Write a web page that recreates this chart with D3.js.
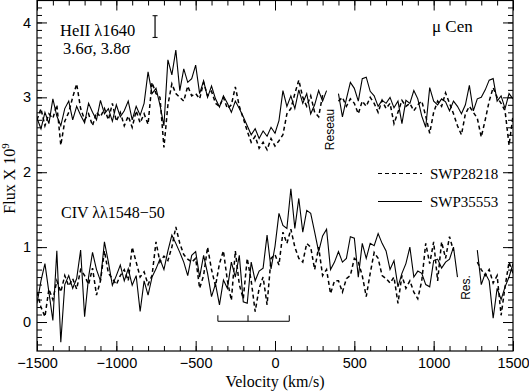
<!DOCTYPE html>
<html>
<head>
<meta charset="utf-8">
<script src="https://cdn.jsdelivr.net/npm/d3@7"></script>
<style>
  body { margin: 0; background: #fff; }
  text { fill: #000; }
</style>
</head>
<body>
<div id="chart"></div>
<script>
// velocity grid (km/s), 25 km/s bins
var velocity = d3.range(-1500, 1501, 25);

// HeII 1640 fluxes (x 1e-9)
var heII_swp35553 = [
  2.72, 2.58, 2.80, 2.65, 2.98, 2.75, 2.62, 2.85, 2.95, 2.70, 2.88, 2.76,
  2.66, 2.92, 2.80, 2.70, 2.96, 2.78, 2.85, 2.68, 2.90, 2.74, 2.82, 2.95,
  2.70, 2.88, 2.76, 2.92, 3.34, 3.05, 3.12, 2.90, 2.62, 3.50, 3.30, 3.63,
  3.09, 3.38, 3.20, 3.25, 3.43, 3.05, 3.22, 3.00, 3.15, 2.98, 2.87, 3.02,
  2.92, 2.80, 2.95, 2.85, 2.74, 2.62, 2.50, 2.58, 2.45, 2.55, 2.48, 2.60,
  2.52, 2.69, 3.09, 2.88, 3.02, 2.85, 3.10, 2.92, 3.05, 2.78, 2.90, 3.09,
  2.95, 3.09, null, null, 3.05, 2.74, 2.98, 3.20, 3.12, 2.95, 3.25, 3.27,
  3.08, 3.02, 2.88, 2.96, 2.92, 3.00, 2.86, 2.95, 2.65, 2.96, 2.92, 3.09,
  2.98, 2.75, 2.60, 3.13, 2.95, 2.90, 2.98, 2.94, 2.82, 2.95, 2.88, 2.78,
  2.90, 3.16, 2.82, 2.98, 3.00, 3.10, 3.23, 3.25, 2.95, 3.02, 2.85, 3.05,
  2.98
];
var heII_swp28218 = [
  2.70, 2.85, 2.62, 2.78, 2.72, 2.90, 2.36, 2.68, 2.80, 3.00, 3.18, 2.85,
  2.70, 2.78, 2.62, 2.80, 2.74, 2.85, 2.70, 2.92, 2.68, 2.80, 2.62, 2.75,
  2.60, 2.82, 2.66, 2.78, 2.64, 3.20, 3.05, 3.00, 2.33, 2.90, 3.18, 3.05,
  3.00, 2.95, 3.15, 3.02, 3.05, 2.98, 3.20, 3.02, 3.08, 2.92, 2.88, 3.00,
  2.85, 2.90, 3.14, 2.88, 2.72, 2.55, 2.40, 2.48, 2.32, 2.40, 2.30, 2.45,
  2.35, 2.42, 2.50, 2.78, 2.85, 3.05, 3.23, 3.00, 2.88, 3.02, 2.80, 2.74,
  3.03, null, null, null, 2.95, 3.00, 2.88, 2.98, 2.92, 2.78, 2.95, 2.88,
  3.00, 2.92, 2.80, 2.96, 2.85, 2.92, 2.65, 2.80, 2.96, 2.88, 2.92, 2.82,
  2.90, 2.95, 2.75, 2.52, 2.80, 2.95, 2.88, 3.06, 2.92, 2.78, 2.62, 2.50,
  2.78, 2.88, 2.80, 2.72, 2.47, 2.70, 2.95, 3.13, 3.00, 2.92, 2.82, 2.36,
  2.75
];

// CIV 1548-50 fluxes (x 1e-9)
var civ_swp35553 = [
  0.25, 0.55, 0.78, 0.40, 0.02, 0.95, -0.27, 0.50, 0.62, 0.45, 0.58, 0.96,
  0.07, 0.60, 0.93, 0.70, 0.55, 1.07, 0.80, 0.49, 0.62, 0.76, 0.55, 0.71,
  0.49, 0.62, 0.14, 0.55, 0.36, 0.60, 0.71, 0.84, 0.70, 0.95, 1.16, 1.05,
  0.93, 0.80, 0.62, 0.89, 0.94, 0.60, 0.89, 0.65, 0.34, 0.51, 0.23, 0.56,
  0.45, 0.80, 0.60, 0.89, 0.27, 0.25, 0.80, 0.55, 0.68, 0.72, 1.16, 0.71,
  1.01, 1.45, 1.29, 1.25, 1.78, 1.25, 1.65, 1.20, 1.49, 1.45, 1.20, 0.94,
  1.15, 1.24, 0.70, 0.80, 0.94, 0.80, 0.85, 1.14, 1.12, 0.60, 1.05, 0.85,
  1.05, 1.02, 1.18, 1.05, 0.95, 0.70, 0.82, 0.47, 0.65, 0.78, 1.00, 0.60,
  0.68, 0.65, 0.50, 0.47, 0.82, 0.84, 0.72, 0.80, 0.84, 1.00, 0.60, null,
  null, null, null, 0.96, 0.50, 0.65, 0.55, 0.05, 0.45, 0.30, 0.47, 0.60,
  0.78
];
var civ_swp28218 = [
  0.40, 0.20, 0.07, 0.44, 0.30, 0.55, 0.40, 0.62, 0.48, 0.58, 0.44, 0.70,
  0.62, 0.50, 0.72, 0.36, 0.55, 0.95, 0.65, 0.58, 0.50, 0.62, 0.70, 0.55,
  1.00, 0.80, 0.60, 0.67, 0.50, 0.62, 1.07, 0.80, 0.88, 0.82, 1.00, 1.27,
  1.05, 0.90, 0.84, 0.80, 0.85, 0.45, 0.62, 1.00, 0.70, 0.48, 0.78, 0.95,
  0.55, 0.29, 0.95, 0.50, 0.31, 0.85, 0.55, 0.14, 0.45, 0.60, 0.23, 0.85,
  0.90, 0.76, 1.20, 1.05, 1.24, 1.00, 0.85, 0.80, 1.05, 1.00, 0.70, 1.00,
  0.62, 0.70, 0.38, 0.55, 0.55, 0.40, 0.58, 0.62, 0.85, 0.80, 0.62, 0.34,
  0.65, 0.93, 0.85, 0.62, 0.58, 0.52, 0.60, 0.25, 0.62, 0.45, 0.55, 0.40,
  0.31, 0.55, 1.05, 0.78, 1.07, 0.55, 1.07, 0.85, 1.14, 0.95, null, null,
  null, null, null, 0.80, 0.70, 0.62, 0.70, 0.52, 0.62, 0.09, 0.47, 0.80,
  0.65
];

// axis ticks
var xMajor = [-1500, -1000, -500, 0, 500, 1000, 1500];
var xMinor = d3.range(-1500, 1501, 100);
var yMajor = [0, 1, 2, 3, 4];
var yMinor = d3.range(-0.3, 4.25, 0.1);

// velocity bracket under the CIV profile, and HeII error bar
var bracketVel = [-360, -170, 90];
var bracketFlux = 0.01;
var errVel = -756, errLow = 3.8, errHigh = 4.09;

var margin = {top: 0.5, right: 16, bottom: 40, left: 37},
    width = 529 - margin.left - margin.right,
    height = 351 - margin.top;

var svg = d3.select("#chart")
  .append("svg")
    .attr("width", 529)
    .attr("height", 391)
  .append("g")
    .attr("transform", "translate(" + margin.left + "," + margin.top + ")");

var x = d3.scaleLinear().domain([-1500, 1500]).range([0, width]);
var y = d3.scaleLinear().domain([-0.387, 4.293]).range([height, 0]);

var sansFont = "'Liberation Sans', Arial, sans-serif";
var serifFont = "'Liberation Serif', 'Times New Roman', serif";

svg.append("clipPath").attr("id", "clip")
  .append("rect").attr("width", width).attr("height", height);

// spectra
function series(vals) {
  return velocity.map(function (v, i) { return [v, vals[i]]; });
}
var line = d3.line()
  .defined(function (d) { return d[1] != null; })
  .x(function (d) { return x(d[0]); })
  .y(function (d) { return y(d[1]); });

var spectra = [
  {vals: heII_swp28218, dash: "4,3", w: 1.5},
  {vals: civ_swp28218, dash: "4,3", w: 1.5},
  {vals: heII_swp35553, dash: null, w: 1.1},
  {vals: civ_swp35553, dash: null, w: 1.1}
];
svg.append("g").attr("clip-path", "url(#clip)")
  .selectAll("path")
  .data(spectra)
  .enter()
  .append("path")
    .attr("d", function (d) { return line(series(d.vals)); })
    .attr("fill", "none")
    .attr("stroke", "#000")
    .attr("stroke-width", function (d) { return d.w; })
    .attr("stroke-dasharray", function (d) { return d.dash; });

// axes: labelled bottom/left, bare top/right, ticks pointing inward
function styleAxis(g) {
  g.select(".domain").remove();
  g.selectAll("line").attr("stroke", "#000");
  g.selectAll("text").style("font-family", sansFont).style("font-size", "14.5px").attr("fill", "#000");
}
svg.append("g").attr("transform", "translate(0," + height + ")")
  .call(d3.axisBottom(x).tickValues(xMinor).tickSize(-5).tickFormat("")).call(styleAxis);
svg.append("g").attr("transform", "translate(0," + height + ")")
  .call(d3.axisBottom(x).tickValues(xMajor).tickSize(-10).tickPadding(7).tickFormat(d3.format("d"))).call(styleAxis);
svg.append("g")
  .call(d3.axisTop(x).tickValues(xMinor).tickSize(-5).tickFormat("")).call(styleAxis);
svg.append("g")
  .call(d3.axisTop(x).tickValues(xMajor).tickSize(-10).tickFormat("")).call(styleAxis);

svg.append("g")
  .call(d3.axisLeft(y).tickValues(yMinor).tickSize(-5).tickFormat("")).call(styleAxis);
svg.append("g")
  .call(d3.axisLeft(y).tickValues(yMajor).tickSize(-10).tickPadding(6).tickFormat(d3.format("d"))).call(styleAxis);
svg.append("g").attr("transform", "translate(" + width + ",0)")
  .call(d3.axisRight(y).tickValues(yMinor).tickSize(-5).tickFormat("")).call(styleAxis);
svg.append("g").attr("transform", "translate(" + width + ",0)")
  .call(d3.axisRight(y).tickValues(yMajor).tickSize(-10).tickFormat("")).call(styleAxis);

svg.append("rect")
  .attr("width", width).attr("height", height)
  .attr("fill", "none").attr("stroke", "#000").attr("stroke-width", 1.2);

// axis titles
svg.append("text")
  .attr("x", x(0)).attr("y", height + 35.5)
  .attr("text-anchor", "middle")
  .style("font-family", serifFont).style("font-size", "16px")
  .text("Velocity (km/s)");

var ylab = svg.append("text")
  .attr("transform", "translate(-22," + 178 + ") rotate(-90)")
  .attr("text-anchor", "middle")
  .style("font-family", serifFont).style("font-size", "16px");
ylab.append("tspan").text("Flux X 10");
ylab.append("tspan").attr("dy", -6).style("font-size", "11px").text("9");

// annotations
function label(px, py, txt, size) {
  return svg.append("text")
    .attr("x", px).attr("y", py)
    .style("font-family", serifFont).style("font-size", size + "px")
    .text(txt);
}
label(23, 35, "HeII \u03bb1640", 16.5);
label(26, 53, "3.6\u03c3, 3.8\u03c3", 16.5);
label(395, 31, "\u03bc  Cen", 17);
label(24, 217, "CIV \u03bb\u03bb1548\u221250", 16);

svg.append("text")
  .attr("transform", "translate(" + (x(375) - 1) + "," + 129 + ") rotate(-90)")
  .attr("text-anchor", "middle")
  .style("font-family", sansFont).style("font-size", "12px")
  .text("Reseau");
svg.append("text")
  .attr("transform", "translate(" + (x(1225) + 1) + "," + 287 + ") rotate(-90)")
  .attr("text-anchor", "middle")
  .style("font-family", sansFont).style("font-size", "12px")
  .text("Res.");

// legend
var legend = svg.append("g")
  .selectAll("g")
  .data([{name: "SWP28218", dash: "4,3", y: 173}, {name: "SWP35553", dash: null, y: 201}])
  .enter()
  .append("g")
    .attr("transform", function (d) { return "translate(341," + d.y + ")"; });
legend.append("line")
  .attr("x1", 0).attr("x2", 44)
  .attr("stroke", "#000").attr("stroke-width", 1.1)
  .attr("stroke-dasharray", function (d) { return d.dash; });
legend.append("text")
  .attr("x", 52).attr("y", 5)
  .style("font-family", serifFont).style("font-size", "15px")
  .text(function (d) { return d.name; });

// error bar
svg.append("line")
  .attr("x1", x(errVel)).attr("x2", x(errVel))
  .attr("y1", y(errLow)).attr("y2", y(errHigh))
  .attr("stroke", "#000").attr("stroke-width", 1.2);
svg.selectAll(".cap")
  .data([errLow, errHigh])
  .enter().append("line")
    .attr("x1", x(errVel) - 2.5).attr("x2", x(errVel) + 2.5)
    .attr("y1", function (d) { return y(d); }).attr("y2", function (d) { return y(d); })
    .attr("stroke", "#000");

// bracket
svg.append("line")
  .attr("x1", x(bracketVel[0])).attr("x2", x(bracketVel[2]))
  .attr("y1", y(bracketFlux)).attr("y2", y(bracketFlux))
  .attr("stroke", "#000");
svg.selectAll(".btick")
  .data(bracketVel)
  .enter().append("line")
    .attr("x1", function (d) { return x(d); }).attr("x2", function (d) { return x(d); })
    .attr("y1", y(bracketFlux)).attr("y2", y(bracketFlux) - 6)
    .attr("stroke", "#000");
</script>
</body>
</html>
